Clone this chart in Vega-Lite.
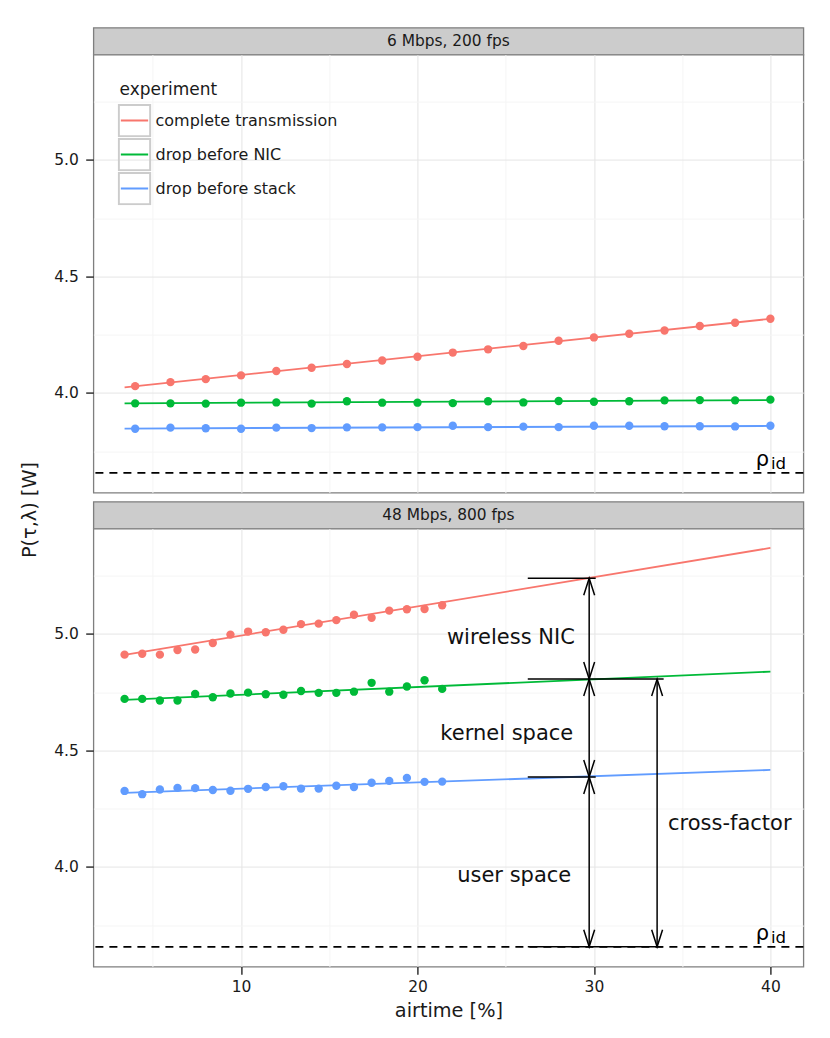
{
  "$schema": "https://vega.github.io/schema/vega-lite/v6.json",
  "padding": {"left": 20.4, "top": 26.6, "right": 5, "bottom": 5},
  "config": {"font": "DejaVu Sans", "view": {"stroke": null}},
  "title": {
    "text": "P(τ,λ) [W]", "orient": "left", "anchor": "middle",
    "fontSize": 19.3, "fontWeight": "normal", "color": "#1a1a1a",
    "offset": 12.4, "dx": 14
  },
  "datasets": {
    "strips": [
      {"rate": "6 Mbps", "label": "6 Mbps, 200 fps"},
      {"rate": "48 Mbps", "label": "48 Mbps, 800 fps"}
    ],
    "points": [
      {"rate": "6 Mbps", "experiment": "complete transmission", "airtime": 4, "power": 4.029},
      {"rate": "6 Mbps", "experiment": "complete transmission", "airtime": 6, "power": 4.046},
      {"rate": "6 Mbps", "experiment": "complete transmission", "airtime": 8, "power": 4.059},
      {"rate": "6 Mbps", "experiment": "complete transmission", "airtime": 10, "power": 4.075},
      {"rate": "6 Mbps", "experiment": "complete transmission", "airtime": 12, "power": 4.094},
      {"rate": "6 Mbps", "experiment": "complete transmission", "airtime": 14, "power": 4.108},
      {"rate": "6 Mbps", "experiment": "complete transmission", "airtime": 16, "power": 4.124},
      {"rate": "6 Mbps", "experiment": "complete transmission", "airtime": 18, "power": 4.139},
      {"rate": "6 Mbps", "experiment": "complete transmission", "airtime": 20, "power": 4.155},
      {"rate": "6 Mbps", "experiment": "complete transmission", "airtime": 22, "power": 4.173},
      {"rate": "6 Mbps", "experiment": "complete transmission", "airtime": 24, "power": 4.187},
      {"rate": "6 Mbps", "experiment": "complete transmission", "airtime": 26, "power": 4.201},
      {"rate": "6 Mbps", "experiment": "complete transmission", "airtime": 28, "power": 4.224},
      {"rate": "6 Mbps", "experiment": "complete transmission", "airtime": 30, "power": 4.238},
      {"rate": "6 Mbps", "experiment": "complete transmission", "airtime": 32, "power": 4.254},
      {"rate": "6 Mbps", "experiment": "complete transmission", "airtime": 34, "power": 4.268},
      {"rate": "6 Mbps", "experiment": "complete transmission", "airtime": 36, "power": 4.287},
      {"rate": "6 Mbps", "experiment": "complete transmission", "airtime": 38, "power": 4.301},
      {"rate": "6 Mbps", "experiment": "complete transmission", "airtime": 40, "power": 4.318},
      {"rate": "6 Mbps", "experiment": "drop before NIC", "airtime": 4, "power": 3.955},
      {"rate": "6 Mbps", "experiment": "drop before NIC", "airtime": 6, "power": 3.955},
      {"rate": "6 Mbps", "experiment": "drop before NIC", "airtime": 8, "power": 3.954},
      {"rate": "6 Mbps", "experiment": "drop before NIC", "airtime": 10, "power": 3.958},
      {"rate": "6 Mbps", "experiment": "drop before NIC", "airtime": 12, "power": 3.959},
      {"rate": "6 Mbps", "experiment": "drop before NIC", "airtime": 14, "power": 3.954},
      {"rate": "6 Mbps", "experiment": "drop before NIC", "airtime": 16, "power": 3.964},
      {"rate": "6 Mbps", "experiment": "drop before NIC", "airtime": 18, "power": 3.958},
      {"rate": "6 Mbps", "experiment": "drop before NIC", "airtime": 20, "power": 3.958},
      {"rate": "6 Mbps", "experiment": "drop before NIC", "airtime": 22, "power": 3.956},
      {"rate": "6 Mbps", "experiment": "drop before NIC", "airtime": 24, "power": 3.964},
      {"rate": "6 Mbps", "experiment": "drop before NIC", "airtime": 26, "power": 3.959},
      {"rate": "6 Mbps", "experiment": "drop before NIC", "airtime": 28, "power": 3.965},
      {"rate": "6 Mbps", "experiment": "drop before NIC", "airtime": 30, "power": 3.962},
      {"rate": "6 Mbps", "experiment": "drop before NIC", "airtime": 32, "power": 3.964},
      {"rate": "6 Mbps", "experiment": "drop before NIC", "airtime": 34, "power": 3.968},
      {"rate": "6 Mbps", "experiment": "drop before NIC", "airtime": 36, "power": 3.969},
      {"rate": "6 Mbps", "experiment": "drop before NIC", "airtime": 38, "power": 3.968},
      {"rate": "6 Mbps", "experiment": "drop before NIC", "airtime": 40, "power": 3.971},
      {"rate": "6 Mbps", "experiment": "drop before stack", "airtime": 4, "power": 3.846},
      {"rate": "6 Mbps", "experiment": "drop before stack", "airtime": 6, "power": 3.851},
      {"rate": "6 Mbps", "experiment": "drop before stack", "airtime": 8, "power": 3.848},
      {"rate": "6 Mbps", "experiment": "drop before stack", "airtime": 10, "power": 3.846},
      {"rate": "6 Mbps", "experiment": "drop before stack", "airtime": 12, "power": 3.851},
      {"rate": "6 Mbps", "experiment": "drop before stack", "airtime": 14, "power": 3.849},
      {"rate": "6 Mbps", "experiment": "drop before stack", "airtime": 16, "power": 3.852},
      {"rate": "6 Mbps", "experiment": "drop before stack", "airtime": 18, "power": 3.852},
      {"rate": "6 Mbps", "experiment": "drop before stack", "airtime": 20, "power": 3.853},
      {"rate": "6 Mbps", "experiment": "drop before stack", "airtime": 22, "power": 3.859},
      {"rate": "6 Mbps", "experiment": "drop before stack", "airtime": 24, "power": 3.853},
      {"rate": "6 Mbps", "experiment": "drop before stack", "airtime": 26, "power": 3.855},
      {"rate": "6 Mbps", "experiment": "drop before stack", "airtime": 28, "power": 3.853},
      {"rate": "6 Mbps", "experiment": "drop before stack", "airtime": 30, "power": 3.859},
      {"rate": "6 Mbps", "experiment": "drop before stack", "airtime": 32, "power": 3.859},
      {"rate": "6 Mbps", "experiment": "drop before stack", "airtime": 34, "power": 3.857},
      {"rate": "6 Mbps", "experiment": "drop before stack", "airtime": 36, "power": 3.857},
      {"rate": "6 Mbps", "experiment": "drop before stack", "airtime": 38, "power": 3.856},
      {"rate": "6 Mbps", "experiment": "drop before stack", "airtime": 40, "power": 3.859},
      {"rate": "48 Mbps", "experiment": "complete transmission", "airtime": 3.4, "power": 4.911},
      {"rate": "48 Mbps", "experiment": "complete transmission", "airtime": 4.4, "power": 4.915},
      {"rate": "48 Mbps", "experiment": "complete transmission", "airtime": 5.4, "power": 4.911},
      {"rate": "48 Mbps", "experiment": "complete transmission", "airtime": 6.4, "power": 4.931},
      {"rate": "48 Mbps", "experiment": "complete transmission", "airtime": 7.4, "power": 4.933},
      {"rate": "48 Mbps", "experiment": "complete transmission", "airtime": 8.4, "power": 4.961},
      {"rate": "48 Mbps", "experiment": "complete transmission", "airtime": 9.4, "power": 4.997},
      {"rate": "48 Mbps", "experiment": "complete transmission", "airtime": 10.4, "power": 5.010},
      {"rate": "48 Mbps", "experiment": "complete transmission", "airtime": 11.4, "power": 5.007},
      {"rate": "48 Mbps", "experiment": "complete transmission", "airtime": 12.4, "power": 5.018},
      {"rate": "48 Mbps", "experiment": "complete transmission", "airtime": 13.4, "power": 5.042},
      {"rate": "48 Mbps", "experiment": "complete transmission", "airtime": 14.4, "power": 5.044},
      {"rate": "48 Mbps", "experiment": "complete transmission", "airtime": 15.4, "power": 5.059},
      {"rate": "48 Mbps", "experiment": "complete transmission", "airtime": 16.4, "power": 5.082},
      {"rate": "48 Mbps", "experiment": "complete transmission", "airtime": 17.4, "power": 5.069},
      {"rate": "48 Mbps", "experiment": "complete transmission", "airtime": 18.4, "power": 5.100},
      {"rate": "48 Mbps", "experiment": "complete transmission", "airtime": 19.4, "power": 5.106},
      {"rate": "48 Mbps", "experiment": "complete transmission", "airtime": 20.4, "power": 5.107},
      {"rate": "48 Mbps", "experiment": "complete transmission", "airtime": 21.4, "power": 5.123},
      {"rate": "48 Mbps", "experiment": "drop before NIC", "airtime": 3.4, "power": 4.721},
      {"rate": "48 Mbps", "experiment": "drop before NIC", "airtime": 4.4, "power": 4.721},
      {"rate": "48 Mbps", "experiment": "drop before NIC", "airtime": 5.4, "power": 4.714},
      {"rate": "48 Mbps", "experiment": "drop before NIC", "airtime": 6.4, "power": 4.714},
      {"rate": "48 Mbps", "experiment": "drop before NIC", "airtime": 7.4, "power": 4.742},
      {"rate": "48 Mbps", "experiment": "drop before NIC", "airtime": 8.4, "power": 4.728},
      {"rate": "48 Mbps", "experiment": "drop before NIC", "airtime": 9.4, "power": 4.744},
      {"rate": "48 Mbps", "experiment": "drop before NIC", "airtime": 10.4, "power": 4.748},
      {"rate": "48 Mbps", "experiment": "drop before NIC", "airtime": 11.4, "power": 4.741},
      {"rate": "48 Mbps", "experiment": "drop before NIC", "airtime": 12.4, "power": 4.739},
      {"rate": "48 Mbps", "experiment": "drop before NIC", "airtime": 13.4, "power": 4.755},
      {"rate": "48 Mbps", "experiment": "drop before NIC", "airtime": 14.4, "power": 4.747},
      {"rate": "48 Mbps", "experiment": "drop before NIC", "airtime": 15.4, "power": 4.747},
      {"rate": "48 Mbps", "experiment": "drop before NIC", "airtime": 16.4, "power": 4.752},
      {"rate": "48 Mbps", "experiment": "drop before NIC", "airtime": 17.4, "power": 4.790},
      {"rate": "48 Mbps", "experiment": "drop before NIC", "airtime": 18.4, "power": 4.752},
      {"rate": "48 Mbps", "experiment": "drop before NIC", "airtime": 19.4, "power": 4.774},
      {"rate": "48 Mbps", "experiment": "drop before NIC", "airtime": 20.4, "power": 4.801},
      {"rate": "48 Mbps", "experiment": "drop before NIC", "airtime": 21.4, "power": 4.764},
      {"rate": "48 Mbps", "experiment": "drop before stack", "airtime": 3.4, "power": 4.326},
      {"rate": "48 Mbps", "experiment": "drop before stack", "airtime": 4.4, "power": 4.312},
      {"rate": "48 Mbps", "experiment": "drop before stack", "airtime": 5.4, "power": 4.332},
      {"rate": "48 Mbps", "experiment": "drop before stack", "airtime": 6.4, "power": 4.339},
      {"rate": "48 Mbps", "experiment": "drop before stack", "airtime": 7.4, "power": 4.338},
      {"rate": "48 Mbps", "experiment": "drop before stack", "airtime": 8.4, "power": 4.330},
      {"rate": "48 Mbps", "experiment": "drop before stack", "airtime": 9.4, "power": 4.327},
      {"rate": "48 Mbps", "experiment": "drop before stack", "airtime": 10.4, "power": 4.335},
      {"rate": "48 Mbps", "experiment": "drop before stack", "airtime": 11.4, "power": 4.343},
      {"rate": "48 Mbps", "experiment": "drop before stack", "airtime": 12.4, "power": 4.346},
      {"rate": "48 Mbps", "experiment": "drop before stack", "airtime": 13.4, "power": 4.336},
      {"rate": "48 Mbps", "experiment": "drop before stack", "airtime": 14.4, "power": 4.336},
      {"rate": "48 Mbps", "experiment": "drop before stack", "airtime": 15.4, "power": 4.348},
      {"rate": "48 Mbps", "experiment": "drop before stack", "airtime": 16.4, "power": 4.343},
      {"rate": "48 Mbps", "experiment": "drop before stack", "airtime": 17.4, "power": 4.361},
      {"rate": "48 Mbps", "experiment": "drop before stack", "airtime": 18.4, "power": 4.369},
      {"rate": "48 Mbps", "experiment": "drop before stack", "airtime": 19.4, "power": 4.382},
      {"rate": "48 Mbps", "experiment": "drop before stack", "airtime": 20.4, "power": 4.365},
      {"rate": "48 Mbps", "experiment": "drop before stack", "airtime": 21.4, "power": 4.366}
    ],
    "fits": [
      {"rate": "6 Mbps", "experiment": "complete transmission", "airtime": 3.4, "power": 4.024},
      {"rate": "6 Mbps", "experiment": "complete transmission", "airtime": 40, "power": 4.318},
      {"rate": "6 Mbps", "experiment": "drop before NIC", "airtime": 3.4, "power": 3.955},
      {"rate": "6 Mbps", "experiment": "drop before NIC", "airtime": 40, "power": 3.969},
      {"rate": "6 Mbps", "experiment": "drop before stack", "airtime": 3.4, "power": 3.847},
      {"rate": "6 Mbps", "experiment": "drop before stack", "airtime": 40, "power": 3.858},
      {"rate": "48 Mbps", "experiment": "complete transmission", "airtime": 3.4, "power": 4.910},
      {"rate": "48 Mbps", "experiment": "complete transmission", "airtime": 40, "power": 5.369},
      {"rate": "48 Mbps", "experiment": "drop before NIC", "airtime": 3.4, "power": 4.717},
      {"rate": "48 Mbps", "experiment": "drop before NIC", "airtime": 40, "power": 4.838},
      {"rate": "48 Mbps", "experiment": "drop before stack", "airtime": 3.4, "power": 4.318},
      {"rate": "48 Mbps", "experiment": "drop before stack", "airtime": 40, "power": 4.416}
    ],
    "idle": [{"power": 3.657}],
    "idle_label": [{"symbol": "ρ", "index": "id", "airtime": 39.55, "power": 3.686, "airtime_sub": 40.46, "power_sub": 3.672}],
    "guides": [
      {"from": 26.25, "to": 30.1, "power": 5.239},
      {"from": 26.25, "to": 33.95, "power": 4.806},
      {"from": 26.25, "to": 30.1, "power": 4.386},
      {"from": 26.25, "to": 33.9, "power": 3.657}
    ],
    "arrows": [
      {"airtime": 29.73, "top": 5.239, "bottom": 4.806},
      {"airtime": 29.73, "top": 4.806, "bottom": 4.386},
      {"airtime": 29.73, "top": 4.386, "bottom": 3.657},
      {"airtime": 33.58, "top": 4.806, "bottom": 3.657}
    ],
    "notes": [
      {"label": "wireless NIC", "airtime": 25.29, "power": 4.958},
      {"label": "kernel space", "airtime": 25.06, "power": 4.545},
      {"label": "user space", "airtime": 25.48, "power": 3.937},
      {"label": "cross-factor", "airtime": 37.7, "power": 4.158}
    ]
  },
  "spacing": 7,
  "resolve": {"scale": {"fill": "independent", "stroke": "independent", "opacity": "independent"}},
  "vconcat": [
    {
      "spacing": 0,
      "bounds": "flush",
      "resolve": {"scale": {"fill": "independent", "stroke": "independent", "opacity": "independent"}},
      "vconcat": [
        {
          "width": 710,
          "height": 27,
          "view": {"fill": "#cccccc", "stroke": "#7f7f7f", "strokeWidth": 1.3},
          "data": {"name": "strips"},
          "transform": [{"filter": "datum.rate === '6 Mbps'"}],
          "mark": {"type": "text", "fontSize": 15.4, "color": "#1a1a1a", "baseline": "middle"},
          "encoding": {"text": {"field": "label"}}
        },
        {
          "width": 710,
          "height": 438,
          "view": {"fill": "white", "stroke": "#7f7f7f", "strokeWidth": 1.3},
          "layer": [
            {
              "data": {"name": "points"},
              "transform": [{"filter": "datum.rate === '6 Mbps'"}],
              "mark": {"type": "point", "filled": true, "size": 70, "opacity": 1},
              "encoding": {
                "x": {
                  "field": "airtime", "type": "quantitative",
                  "scale": {"domain": [1.633, 41.87], "nice": false, "zero": false},
                  "axis": {
                    "title": null, "labels": false, "ticks": false, "domain": false,
                    "values": [5, 10, 15, 20, 25, 30, 35, 40],
                    "gridColor": {"condition": {"test": "datum.value % 10 === 0", "value": "#e5e5e5"}, "value": "#f5f5f5"}
                  }
                },
                "y": {
                  "field": "power", "type": "quantitative",
                  "scale": {"domain": [3.572, 5.452], "nice": false, "zero": false},
                  "axis": {
                    "title": null,
                    "values": [3.75, 4, 4.25, 4.5, 4.75, 5, 5.25],
                    "labelExpr": "datum.value % 0.5 === 0 ? format(datum.value, '.1f') : ''",
                    "tickOpacity": {"condition": {"test": "datum.value % 0.5 === 0", "value": 1}, "value": 0},
                    "gridColor": {"condition": {"test": "datum.value % 0.5 === 0", "value": "#e5e5e5"}, "value": "#f5f5f5"},
                    "domain": false, "tickSize": 7.7, "tickWidth": 1.5, "tickColor": "#333333",
                    "labelFontSize": 15.5, "labelColor": "#1a1a1a", "labelPadding": 7.3,
                    "labelFlush": false, "labelOverlap": false
                  }
                },
                "fill": {
                  "field": "experiment", "type": "nominal",
                  "scale": {"range": ["#F8766D", "#00BA38", "#619CFF"]},
                  "legend": null
                }
              }
            },
            {
              "data": {"name": "fits"},
              "transform": [{"filter": "datum.rate === '6 Mbps'"}],
              "mark": {"type": "line", "strokeWidth": 1.8},
              "encoding": {
                "x": {"field": "airtime", "type": "quantitative"},
                "y": {"field": "power", "type": "quantitative"},
                "stroke": {
                  "field": "experiment", "type": "nominal",
                  "scale": {"domain": ["complete transmission", "drop before NIC", "drop before stack"], "range": ["#F8766D", "#00BA38", "#619CFF"]},
                  "legend": {
                    "orient": "none", "legendX": 26.1, "legendY": 27.3, "padding": 0,
                    "title": "experiment", "titleFontSize": 17, "titleFontWeight": "normal", "titleColor": "#1a1a1a", "titlePadding": 5,
                    "labelFontSize": 16, "labelColor": "#1a1a1a", "labelOffset": 6, "labelLimit": 300,
                    "symbolType": "stroke", "symbolSize": 745, "symbolStrokeWidth": 2, "rowPadding": 0, "clipHeight": 33.3
                  }
                },
                "opacity": {
                  "field": "experiment", "type": "nominal",
                  "scale": {"range": [1, 1]},
                  "legend": {
                    "orient": "none", "legendX": 24.1, "legendY": 27.3, "padding": 0,
                    "title": "experiment", "titleFontSize": 17, "titleFontWeight": "normal", "titleColor": "transparent", "titlePadding": 5,
                    "labelFontSize": 16, "labelColor": "transparent", "labelOffset": 4, "labelLimit": 300,
                    "symbolType": "square", "symbolSize": 980, "symbolStrokeWidth": 2, "rowPadding": 0, "clipHeight": 33.3,
                    "symbolFillColor": "transparent", "symbolStrokeColor": "#cccccc"
                  }
                }
              }
            },
            {
              "data": {"name": "idle"},
              "mark": {"type": "rule", "color": "black", "strokeWidth": 1.8, "strokeDash": [8, 6]},
              "encoding": {"y": {"field": "power", "type": "quantitative"}}
            },
            {
              "data": {"name": "idle_label"},
              "mark": {"type": "text", "fontSize": 21, "align": "center", "baseline": "alphabetic", "color": "black"},
              "encoding": {
                "x": {"field": "airtime", "type": "quantitative"},
                "y": {"field": "power", "type": "quantitative"},
                "text": {"field": "symbol"}
              }
            },
            {
              "data": {"name": "idle_label"},
              "mark": {"type": "text", "fontSize": 16.6, "align": "center", "baseline": "alphabetic", "color": "black"},
              "encoding": {
                "x": {"field": "airtime_sub", "type": "quantitative"},
                "y": {"field": "power_sub", "type": "quantitative"},
                "text": {"field": "index"}
              }
            }
          ]
        }
      ]
    },
    {
      "spacing": 0,
      "bounds": "flush",
      "resolve": {"scale": {"fill": "independent", "stroke": "independent", "opacity": "independent"}},
      "vconcat": [
        {
          "width": 710,
          "height": 27,
          "view": {"fill": "#cccccc", "stroke": "#7f7f7f", "strokeWidth": 1.3},
          "data": {"name": "strips"},
          "transform": [{"filter": "datum.rate === '48 Mbps'"}],
          "mark": {"type": "text", "fontSize": 15.4, "color": "#1a1a1a", "baseline": "middle"},
          "encoding": {"text": {"field": "label"}}
        },
        {
          "width": 710,
          "height": 438,
          "view": {"fill": "white", "stroke": "#7f7f7f", "strokeWidth": 1.3},
          "layer": [
            {
              "data": {"name": "points"},
              "transform": [{"filter": "datum.rate === '48 Mbps'"}],
              "mark": {"type": "point", "filled": true, "size": 70, "opacity": 1},
              "encoding": {
                "x": {
                  "field": "airtime", "type": "quantitative",
                  "scale": {"domain": [1.633, 41.87], "nice": false, "zero": false},
                  "axis": {
                    "values": [5, 10, 15, 20, 25, 30, 35, 40],
                    "labelExpr": "datum.value % 10 === 0 ? format(datum.value, 'd') : ''",
                    "tickOpacity": {"condition": {"test": "datum.value % 10 === 0", "value": 1}, "value": 0},
                    "gridColor": {"condition": {"test": "datum.value % 10 === 0", "value": "#e5e5e5"}, "value": "#f5f5f5"},
                    "domain": false, "tickSize": 7.7, "tickWidth": 1.5, "tickColor": "#333333",
                    "labelFontSize": 15.5, "labelColor": "#1a1a1a", "labelPadding": 5,
                    "labelFlush": false, "labelOverlap": false,
                    "title": "airtime [%]", "titleFontSize": 19.3, "titleFontWeight": "normal",
                    "titleColor": "#1a1a1a", "titlePadding": 6.4
                  }
                },
                "y": {
                  "field": "power", "type": "quantitative",
                  "scale": {"domain": [3.572, 5.452], "nice": false, "zero": false},
                  "axis": {
                    "title": null,
                    "values": [3.75, 4, 4.25, 4.5, 4.75, 5, 5.25],
                    "labelExpr": "datum.value % 0.5 === 0 ? format(datum.value, '.1f') : ''",
                    "tickOpacity": {"condition": {"test": "datum.value % 0.5 === 0", "value": 1}, "value": 0},
                    "gridColor": {"condition": {"test": "datum.value % 0.5 === 0", "value": "#e5e5e5"}, "value": "#f5f5f5"},
                    "domain": false, "tickSize": 7.7, "tickWidth": 1.5, "tickColor": "#333333",
                    "labelFontSize": 15.5, "labelColor": "#1a1a1a", "labelPadding": 7.3,
                    "labelFlush": false, "labelOverlap": false
                  }
                },
                "fill": {
                  "field": "experiment", "type": "nominal",
                  "scale": {"range": ["#F8766D", "#00BA38", "#619CFF"]},
                  "legend": null
                }
              }
            },
            {
              "data": {"name": "fits"},
              "transform": [{"filter": "datum.rate === '48 Mbps'"}],
              "mark": {"type": "line", "strokeWidth": 1.8},
              "encoding": {
                "x": {"field": "airtime", "type": "quantitative"},
                "y": {"field": "power", "type": "quantitative"},
                "stroke": {
                  "field": "experiment", "type": "nominal",
                  "scale": {"domain": ["complete transmission", "drop before NIC", "drop before stack"], "range": ["#F8766D", "#00BA38", "#619CFF"]},
                  "legend": null
                }
              }
            },
            {
              "data": {"name": "idle"},
              "mark": {"type": "rule", "color": "black", "strokeWidth": 1.8, "strokeDash": [8, 6]},
              "encoding": {"y": {"field": "power", "type": "quantitative"}}
            },
            {
              "data": {"name": "guides"},
              "mark": {"type": "rule", "color": "black", "strokeWidth": 1.5},
              "encoding": {
                "x": {"field": "from", "type": "quantitative"},
                "x2": {"field": "to"},
                "y": {"field": "power", "type": "quantitative"}
              }
            },
            {
              "data": {"name": "arrows"},
              "mark": {"type": "rule", "color": "black", "strokeWidth": 1.5},
              "encoding": {
                "x": {"field": "airtime", "type": "quantitative"},
                "y": {"field": "top", "type": "quantitative"},
                "y2": {"field": "bottom"}
              }
            },
            {
              "data": {"name": "arrows"},
              "mark": {"type": "point", "shape": "M-0.32,1L0,0L0.32,1", "filled": false, "size": 1156, "stroke": "black", "strokeWidth": 1.5, "opacity": 1},
              "encoding": {
                "x": {"field": "airtime", "type": "quantitative"},
                "y": {"field": "top", "type": "quantitative"}
              }
            },
            {
              "data": {"name": "arrows"},
              "mark": {"type": "point", "shape": "M-0.32,-1L0,0L0.32,-1", "filled": false, "size": 1156, "stroke": "black", "strokeWidth": 1.5, "opacity": 1},
              "encoding": {
                "x": {"field": "airtime", "type": "quantitative"},
                "y": {"field": "bottom", "type": "quantitative"}
              }
            },
            {
              "data": {"name": "notes"},
              "mark": {"type": "text", "fontSize": 21, "align": "center", "baseline": "alphabetic", "color": "#111111"},
              "encoding": {
                "x": {"field": "airtime", "type": "quantitative"},
                "y": {"field": "power", "type": "quantitative"},
                "text": {"field": "label"}
              }
            },
            {
              "data": {"name": "idle_label"},
              "mark": {"type": "text", "fontSize": 21, "align": "center", "baseline": "alphabetic", "color": "black"},
              "encoding": {
                "x": {"field": "airtime", "type": "quantitative"},
                "y": {"field": "power", "type": "quantitative"},
                "text": {"field": "symbol"}
              }
            },
            {
              "data": {"name": "idle_label"},
              "mark": {"type": "text", "fontSize": 16.6, "align": "center", "baseline": "alphabetic", "color": "black"},
              "encoding": {
                "x": {"field": "airtime_sub", "type": "quantitative"},
                "y": {"field": "power_sub", "type": "quantitative"},
                "text": {"field": "index"}
              }
            }
          ]
        }
      ]
    }
  ]
}
